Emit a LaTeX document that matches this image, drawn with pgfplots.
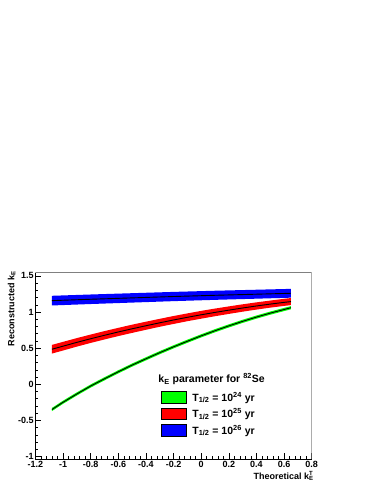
\documentclass[border=0pt]{standalone}
\usepackage{fontspec}
\setmainfont{Liberation Sans}
\usepackage{pgfplots}
\usepackage{pgfplotstable}
\pgfplotsset{compat=1.18}
\usepgfplotslibrary{fillbetween}

% x, centre, lower and upper edge of each band
\pgfplotstableread{
x c lo hi
-1.08 1.158 1.091 1.225
-0.8 1.177 1.111 1.243
-0.5 1.196 1.131 1.261
-0.2 1.215 1.151 1.279
0.1 1.232 1.169 1.295
0.4 1.247 1.185 1.309
0.65 1.260 1.199 1.321
}\tabblue

\pgfplotstableread{
x c lo hi
-1.08 0.485 0.425 0.545
-1.0 0.527 0.467 0.587
-0.9 0.580 0.521 0.639
-0.8 0.630 0.572 0.688
-0.7 0.678 0.620 0.736
-0.6 0.724 0.667 0.781
-0.5 0.768 0.711 0.825
-0.4 0.810 0.754 0.866
-0.3 0.851 0.796 0.906
-0.2 0.890 0.835 0.945
-0.1 0.927 0.873 0.981
0.0 0.962 0.908 1.016
0.1 0.995 0.942 1.048
0.2 1.026 0.974 1.078
0.3 1.056 1.005 1.107
0.4 1.084 1.034 1.134
0.5 1.110 1.061 1.159
0.6 1.134 1.085 1.183
0.65 1.145 1.096 1.194
}\tabred

\pgfplotstableread{
x c lo hi
-1.08 -0.350 -0.372 -0.328
-1.0 -0.250 -0.272 -0.228
-0.9 -0.135 -0.157 -0.113
-0.8 -0.025 -0.047 -0.003
-0.7 0.075 0.053 0.097
-0.6 0.172 0.150 0.194
-0.5 0.265 0.243 0.287
-0.4 0.352 0.330 0.374
-0.3 0.437 0.415 0.459
-0.2 0.518 0.496 0.540
-0.1 0.595 0.573 0.617
0.0 0.670 0.648 0.692
0.1 0.741 0.719 0.763
0.2 0.808 0.786 0.830
0.3 0.871 0.849 0.893
0.4 0.930 0.908 0.952
0.5 0.985 0.963 1.007
0.6 1.035 1.013 1.057
0.65 1.060 1.038 1.082
}\tabgreen

\definecolor{rootgreen}{RGB}{0,255,0}
\definecolor{rootred}{RGB}{255,0,0}
\definecolor{rootblue}{RGB}{0,0,255}

\begin{document}
\begin{tikzpicture}
\begin{axis}[
  at={(35.4pt,24.7pt)}, anchor=south west,
  scale only axis, width=276.3pt, height=186.6pt,
  xmin=-1.2, xmax=0.8, ymin=-1.04, ymax=1.545,
  axis lines=left, axis line style={-, black, line width=0.8pt},
  tick align=inside,
  xtick={-1.2,-1,-0.8,-0.6,-0.4,-0.2,0,0.2,0.4,0.6,0.8},
  xticklabels={-1.2,-1,-0.8,-0.6,-0.4,-0.2,0,0.2,0.4,0.6,0.8},
  ytick={-1,-0.5,0,0.5,1,1.5},
  yticklabels={-1,-0.5,0,0.5,1,1.5},
  minor x tick num=4, minor y tick num=4,
  major tick length=6pt, minor tick length=3pt,
  tick style={black, line width=0.5pt},
  ticklabel style={font=\bfseries\fontsize{9}{10}\selectfont},
  yticklabel style={inner sep=1.5pt},
  xticklabel style={inner sep=0.5pt, yshift=-1.5pt},
  xlabel={Theoretical k\rlap{\textsuperscript{T}}\textsubscript{E}},
  ylabel={Reconstructed k\textsubscript{E}},
  every axis x label/.style={at={(axis description cs:1.008,-0.065)}, anchor=north east, inner sep=0pt, font=\bfseries\fontsize{9}{10}\selectfont},
  every axis y label/.style={at={(axis description cs:-0.0858,1.008)}, rotate=90, anchor=east, inner sep=0pt, font=\bfseries\fontsize{9}{10}\selectfont},
  legend style={at={(rel axis cs:0.4546,0.366)}, anchor=north west, draw=none, fill=none,
    inner sep=0pt, row sep=4.5pt, column sep=5.7pt,
    nodes={inner sep=0pt},
    font=\bfseries\fontsize{10.5}{12}\selectfont},
  legend cell align=left,
]
% blue band
\addplot[name path=bh, draw=none, forget plot] table[x=x,y=hi]{\tabblue};
\addplot[name path=bl, draw=none, forget plot] table[x=x,y=lo]{\tabblue};
\addplot[rootblue, forget plot] fill between[of=bh and bl];
\addplot[black, line width=0.9pt, forget plot] table[x=x,y=c]{\tabblue};
% red band
\addplot[name path=rh, draw=none, forget plot] table[x=x,y=hi]{\tabred};
\addplot[name path=rl, draw=none, forget plot] table[x=x,y=lo]{\tabred};
\addplot[rootred, forget plot] fill between[of=rh and rl];
\addplot[black, line width=0.9pt, forget plot] table[x=x,y=c]{\tabred};
% green band
\addplot[name path=gh, draw=none, forget plot] table[x=x,y=hi]{\tabgreen};
\addplot[name path=gl, draw=none, forget plot] table[x=x,y=lo]{\tabgreen};
\addplot[rootgreen, forget plot] fill between[of=gh and gl];
\addplot[black, line width=0.9pt, forget plot] table[x=x,y=c]{\tabgreen};

\addlegendimage{legend image code/.code={\draw[fill=rootgreen, draw=black, line width=0.5pt] (0pt,-5.75pt) rectangle (25pt,5.75pt);}}
\addlegendentry{T\textsubscript{1/2} = 10\textsuperscript{24} yr}
\addlegendimage{legend image code/.code={\draw[fill=rootred, draw=black, line width=0.5pt] (0pt,-5.75pt) rectangle (25pt,5.75pt);}}
\addlegendentry{T\textsubscript{1/2} = 10\textsuperscript{25} yr}
\addlegendimage{legend image code/.code={\draw[fill=rootblue, draw=black, line width=0.5pt] (0pt,-5.75pt) rectangle (25pt,5.75pt);}}
\addlegendentry{T\textsubscript{1/2} = 10\textsuperscript{26} yr}

\node[anchor=west, inner sep=0pt, font=\bfseries\fontsize{10.5}{12}\selectfont] at (rel axis cs:0.4448,0.430) {k\textsubscript{E} parameter for \textsuperscript{82}Se};
\draw[gray, line width=0.8pt] (rel axis cs:0,1) -- (rel axis cs:1,1) -- (rel axis cs:1,0);
\end{axis}
\pgfresetboundingbox
\useasboundingbox (0pt,0pt) rectangle (374pt,484pt);
\end{tikzpicture}
\end{document}
